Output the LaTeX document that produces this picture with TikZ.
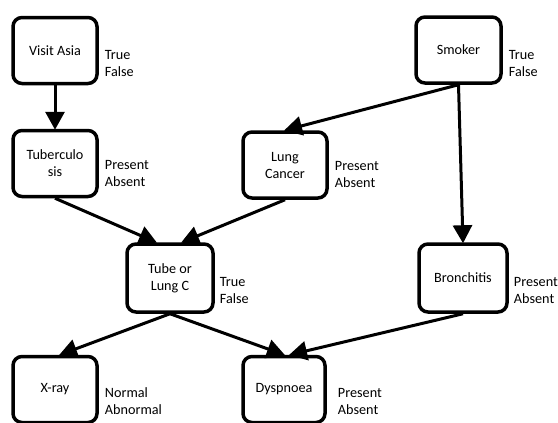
\documentclass[tikz,border=0pt]{standalone}
\usepackage{fontspec}
\setmainfont{Carlito}
\usetikzlibrary{arrows.meta,positioning}
\begin{document}
\begin{tikzpicture}[x=1pt,y=-1pt,
  box/.style={draw, line width=3.5pt, rounded corners=9pt, align=center, minimum width=84pt, minimum height=66pt, inner sep=2pt, font=\fontsize{14.2}{17}\selectfont},
  states/.style={align=left, inner sep=0pt, font=\fontsize{14.2}{17}\selectfont},
  link/.style={line width=3pt, -{Triangle[length=18pt,width=19pt]}, shorten >=-1pt}]
\useasboundingbox (0,0) rectangle (558,423);

\node[box] (asia) at (55,50.5) {Visit Asia};
\node[box] (tub) at (55,163.5) {Tuberculo\\sis};
\node[box] (lung) at (285,165) {Lung\\Cancer};
\node[box, minimum width=85pt] (smoke) at (458.5,50) {Smoker};
\node[box, minimum width=86pt, minimum height=68pt] (either) at (170,278) {Tube or\\Lung C};
\node[box, minimum width=88pt, minimum height=68pt] (bronc) at (463,278) {Bronchitis};
\node[box] (xray) at (55,389.5) {X-ray};
\node[box, minimum width=82pt] (dysp) at (284,389.5) {Dyspnoea};

\node[states, right=6pt of asia, yshift=-13pt] (asiaS) {True\\False};
\node[states, right=6pt of tub, yshift=-10pt] (tubS) {Present\\Absent};
\node[states, right=6pt of lung, yshift=-9pt] (lungS) {Present\\Absent};
\node[states, right=6pt of smoke, yshift=-13pt] (smokeS) {True\\False};
\node[states, right=5pt of either, yshift=-12pt] (eitherS) {True\\False};
\node[states, right=5pt of bronc, yshift=-12pt] (broncS) {Present\\Absent};
\node[states, right=6pt of xray, yshift=-12pt] (xrayS) {Normal\\Abnormal};
\node[states, right=11pt of dysp, yshift=-12pt] (dyspS) {Present\\Absent};

\draw[link] (asia.south) -- (tub.north);
\draw[link] (smoke.south) -- (lung.north);
\draw[link] (smoke.south) -- (bronc.north);
\draw[link] (tub.south) -- ([xshift=-14pt]either.north);
\draw[link] (lung.south) -- ([xshift=12pt]either.north);
\draw[link] (either.south) -- ([xshift=5pt]xray.north);
\draw[link] (either.south) -- (dysp.north);
\draw[link] (bronc.south) -- ([xshift=6pt]dysp.north);
\end{tikzpicture}
\end{document}
